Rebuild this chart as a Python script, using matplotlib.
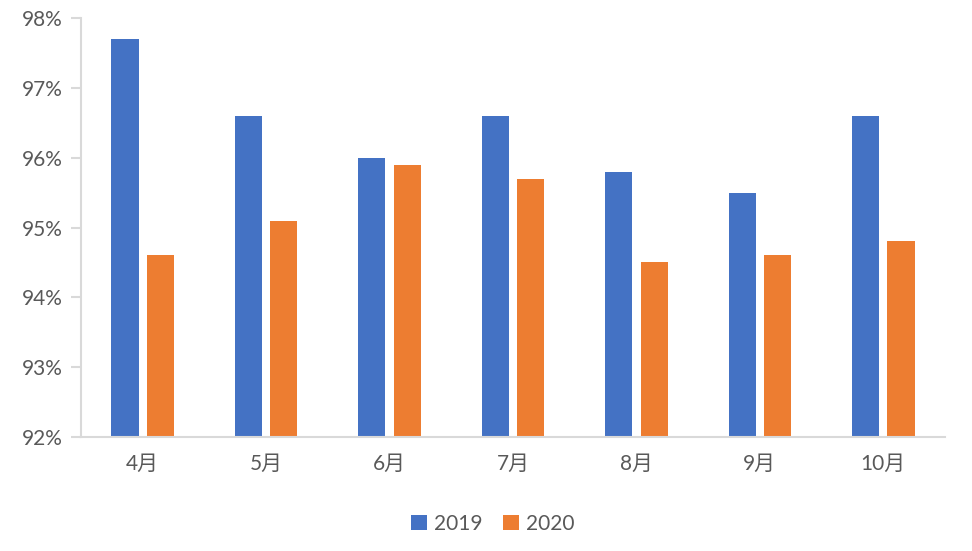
import matplotlib
matplotlib.use("Agg")
import matplotlib.pyplot as plt
import numpy as np

categories = ["4月", "5月", "6月", "7月", "8月", "9月", "10月"]
series_names = ["2019", "2020"]
values_2019 = [97.7, 96.6, 96.0, 96.6, 95.8, 95.5, 96.6]
values_2020 = [94.6, 95.1, 95.9, 95.7, 94.5, 94.6, 94.8]
yticks = [92, 93, 94, 95, 96, 97, 98]
colors = ["#4472C4", "#ED7D31"]

plt.rcParams['font.family'] = ['Lato', 'Noto Sans CJK SC', 'DejaVu Sans']
text_color = "#595959"
axis_color = "#D9D9D9"

fig = plt.figure(figsize=(9.72, 5.51), dpi=100)
ax = fig.add_axes([81/972, 1-437/551, (945-81)/972, (437-18)/551])

x = np.arange(len(categories))
w = 0.22
off = 0.144
base = 92
ax.bar(x - off, np.array(values_2019) - base, w, bottom=base, color=colors[0], label=series_names[0])
ax.bar(x + off, np.array(values_2020) - base, w, bottom=base, color=colors[1], label=series_names[1])

ax.set_xlim(-0.5, len(categories) - 0.5)
ax.set_ylim(92, 98)
ax.set_yticks(yticks)
ax.set_yticklabels([f"{t}%" for t in yticks])
ax.set_xticks(x)
ax.set_xticklabels(categories)

for s in ["top", "right"]:
    ax.spines[s].set_visible(False)
for s in ["left", "bottom"]:
    ax.spines[s].set_color(axis_color)
    ax.spines[s].set_linewidth(1.5)
ax.tick_params(axis='y', colors=axis_color, labelcolor=text_color, labelsize=15, length=7, width=1.5, pad=6)
ax.tick_params(axis='x', length=0, labelcolor=text_color, labelsize=15, pad=12)

fig.legend(loc='center', bbox_to_anchor=(493/972, 1-524/551), ncol=2, frameon=False,
           fontsize=15, labelcolor=text_color, handlelength=0.75, handleheight=0.75,
           handletextpad=0.35, columnspacing=1.0)

fig.savefig("out.png", dpi=100)
